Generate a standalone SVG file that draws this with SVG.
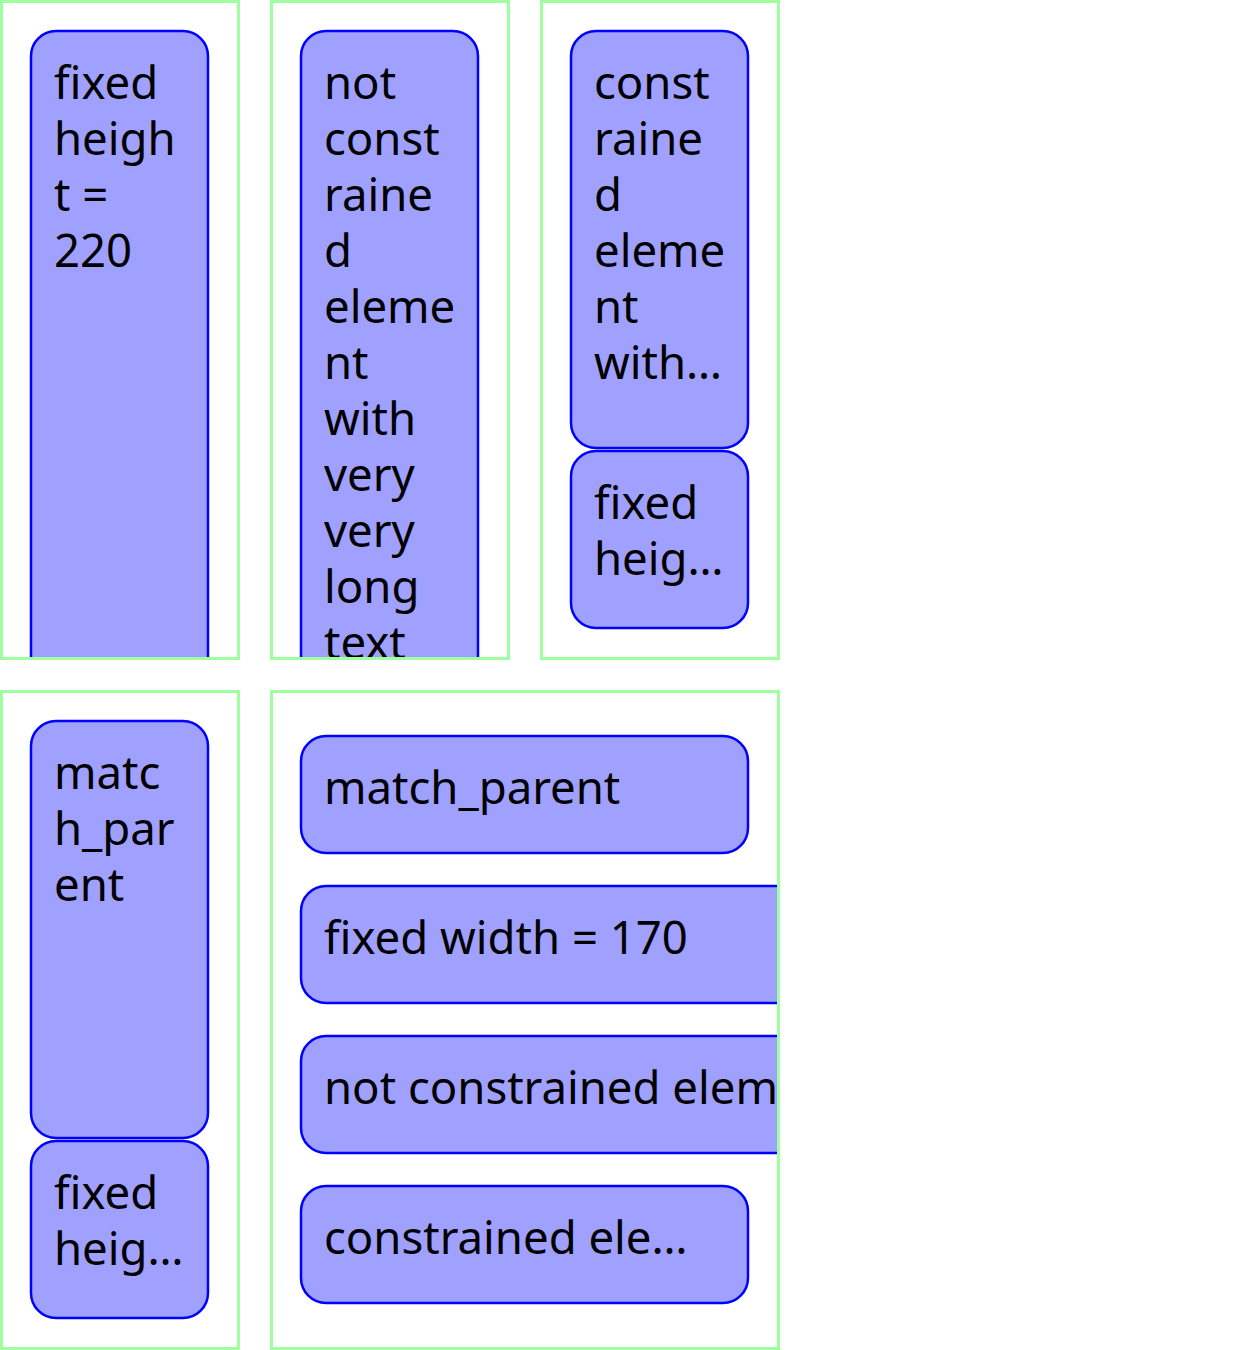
<svg xmlns="http://www.w3.org/2000/svg" width="1242" height="1350" viewBox="0 0 1242 1350">
<style>
.box{fill:none;stroke:#a0ffa0;stroke-width:3}
.node{fill:#a0a0ff;stroke:#0000ff;stroke-width:2.5}
.t{font-family:"Noto Sans","DejaVu Sans",sans-serif;font-size:45.5px;fill:#000}
</style>
<defs>
<clipPath id="c1"><rect x="0" y="0" width="240" height="660"/></clipPath>
<clipPath id="c2"><rect x="270" y="0" width="240" height="660"/></clipPath>
<clipPath id="c3"><rect x="540" y="0" width="240" height="660"/></clipPath>
<clipPath id="c4"><rect x="0" y="690" width="240" height="660"/></clipPath>
<clipPath id="c5"><rect x="270" y="690" width="510" height="660"/></clipPath>
</defs>
<rect width="1242" height="1350" fill="#fff"/>
<g id="container1">
<g clip-path="url(#c1)">
<g id="node-fixed-height-220">
<rect class="node" x="31" y="31" width="177" height="720" rx="25"/>
<text class="t"><tspan x="54" y="99">fixed</tspan><tspan x="54" y="155">heigh</tspan><tspan x="54" y="211">t =</tspan><tspan x="54" y="267">220</tspan></text>
</g>
</g>
<rect class="box" x="1.5" y="1.5" width="237" height="657"/>
</g>
<g id="container2">
<g clip-path="url(#c2)">
<g id="node-not-constrained-long">
<rect class="node" x="301" y="31" width="177" height="720" rx="25"/>
<text class="t"><tspan x="324" y="99">not</tspan><tspan x="324" y="155">const</tspan><tspan x="324" y="211">raine</tspan><tspan x="324" y="267">d</tspan><tspan x="324" y="323">eleme</tspan><tspan x="324" y="379">nt</tspan><tspan x="324" y="435">with</tspan><tspan x="324" y="491">very</tspan><tspan x="324" y="547">very</tspan><tspan x="324" y="603">long</tspan><tspan x="324" y="659">text</tspan></text>
</g>
</g>
<rect class="box" x="271.5" y="1.5" width="237" height="657"/>
</g>
<g id="container3">
<g clip-path="url(#c3)">
<g id="node-constrained-with">
<rect class="node" x="571" y="31" width="177" height="417" rx="25"/>
<text class="t"><tspan x="594" y="99">const</tspan><tspan x="594" y="155">raine</tspan><tspan x="594" y="211">d</tspan><tspan x="594" y="267">eleme</tspan><tspan x="594" y="323">nt</tspan><tspan x="594" y="379">with…</tspan></text>
</g>
<g id="node-fixed-heig-3">
<rect class="node" x="571" y="451" width="177" height="177" rx="25"/>
<text class="t"><tspan x="594" y="519">fixed</tspan><tspan x="594" y="575">heig…</tspan></text>
</g>
</g>
<rect class="box" x="541.5" y="1.5" width="237" height="657"/>
</g>
<g id="container4">
<g clip-path="url(#c4)">
<g id="node-match-parent-v">
<rect class="node" x="31" y="721" width="177" height="417" rx="25"/>
<text class="t"><tspan x="54" y="789">matc</tspan><tspan x="54" y="845">h_par</tspan><tspan x="54" y="901">ent</tspan></text>
</g>
<g id="node-fixed-heig-4">
<rect class="node" x="31" y="1141" width="177" height="177" rx="25"/>
<text class="t"><tspan x="54" y="1209">fixed</tspan><tspan x="54" y="1265">heig…</tspan></text>
</g>
</g>
<rect class="box" x="1.5" y="691.5" width="237" height="657"/>
</g>
<g id="container5">
<g clip-path="url(#c5)">
<g id="node-match-parent-h">
<rect class="node" x="301" y="736" width="447" height="117" rx="25"/>
<text class="t" x="324" y="804">match_parent</text>
</g>
<g id="node-fixed-width-170">
<rect class="node" x="301" y="886" width="700" height="117" rx="25"/>
<text class="t" x="324" y="954">fixed width = 170</text>
</g>
<g id="node-not-constrained-h">
<rect class="node" x="301" y="1036" width="700" height="117" rx="25"/>
<text class="t" x="324" y="1104">not constrained elem</text>
</g>
<g id="node-constrained-h">
<rect class="node" x="301" y="1186" width="447" height="117" rx="25"/>
<text class="t" x="324" y="1254">constrained ele…</text>
</g>
</g>
<rect class="box" x="271.5" y="691.5" width="507" height="657"/>
</g>
</svg>
